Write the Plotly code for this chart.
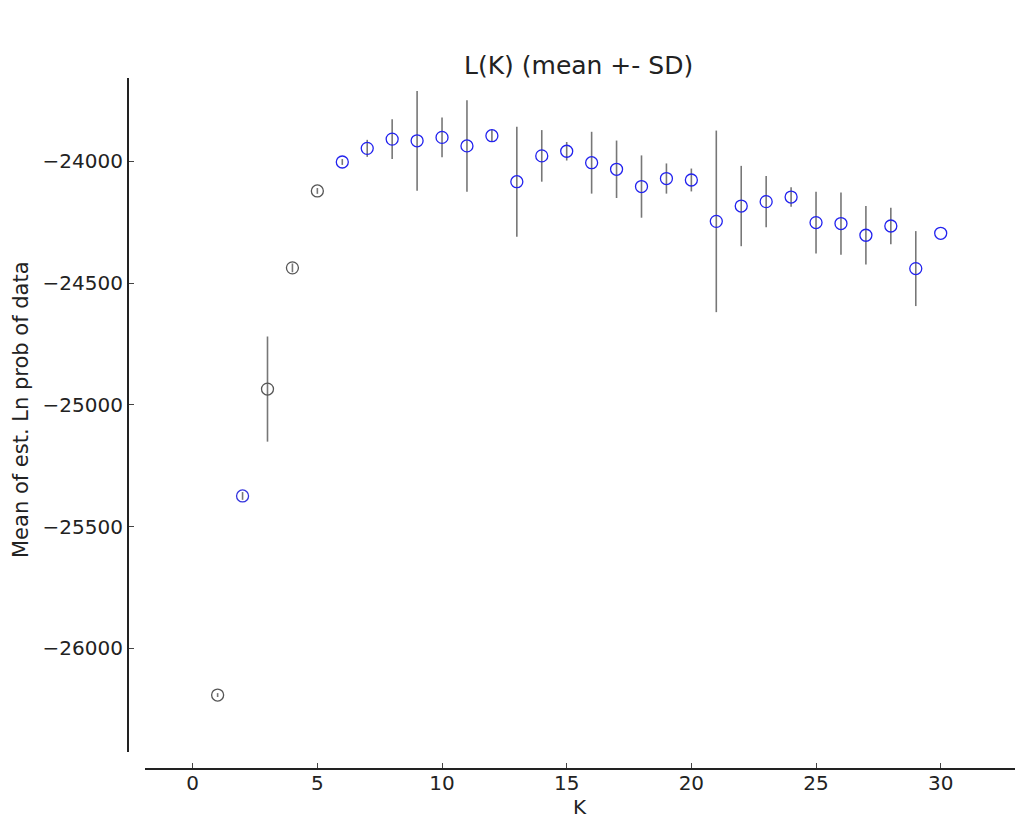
import plotly.graph_objects as go

K = list(range(1, 31))
mean_lnp = [-26192, -25374, -24935, -24437, -24121, -24002, -23946, -23908, -23915, -23901,
            -23936, -23894, -24083, -23977, -23958, -24005, -24032, -24103, -24070, -24076,
            -24246, -24183, -24165, -24146, -24251, -24255, -24303, -24265, -24440, -24295]
sd_lnp = [8, 16, 216, 18, 12, 12, 35, 82, 205, 82,
          188, 25, 226, 106, 38, 127, 118, 128, 62, 47,
          373, 165, 105, 40, 127, 128, 120, 75, 154, 0]
marker_colors = ['#555555', '#3333dd', '#555555', '#555555', '#555555'] + ['#2222ee'] * 25

x_ticks = [0, 5, 10, 15, 20, 25, 30]
y_ticks = [-26000, -25500, -25000, -24500, -24000]

W, H = 1019, 818
FONT = 'DejaVu Sans'

fig = go.Figure()
fig.add_trace(go.Scatter(
    x=K, y=mean_lnp, mode='markers',
    marker=dict(symbol='circle-open', size=12, color=marker_colors, line=dict(width=1.3)),
    error_y=dict(type='data', array=sd_lnp, visible=True, color='#777777', thickness=1.6, width=0),
    showlegend=False,
))

axis_common = dict(showline=True, linecolor='#222222', linewidth=2, showgrid=False, zeroline=False,
                   ticks='inside', ticklen=5, tickwidth=1, tickcolor='#444444',
                   tickfont=dict(family=FONT, size=20, color='#222222'))

fig.update_layout(
    width=W, height=H,
    margin=dict(l=0, r=0, t=0, b=0),
    paper_bgcolor='white', plot_bgcolor='white',
    font=dict(family=FONT, color='#222222'),
    xaxis=dict(domain=[145 / W, 1015 / W], range=[-1.913, 32.98], anchor='free', position=1 - 769 / H,
               tickvals=x_ticks, ticklabelstandoff=-4, **axis_common),
    yaxis=dict(domain=[1 - 752 / H, 1 - 78 / H], range=[-26426, -23657], anchor='free', position=128 / W,
               tickvals=y_ticks, tickformat='d', **axis_common),
    annotations=[
        dict(text='L(K) (mean +- SD)', x=578 / W, y=1 - 66 / H, xref='paper', yref='paper',
             xanchor='center', yanchor='middle', showarrow=False, font=dict(family=FONT, size=25, color='#222222')),
        dict(text='K', x=580 / W, y=1 - 807 / H, xref='paper', yref='paper',
             xanchor='center', yanchor='middle', showarrow=False, font=dict(family=FONT, size=20, color='#222222')),
        dict(text='Mean of est. Ln prob of data', x=21 / W, y=1 - 410 / H, xref='paper', yref='paper',
             xanchor='center', yanchor='middle', textangle=-90, showarrow=False,
             font=dict(family=FONT, size=21, color='#222222')),
    ],
)

fig.write_html('out.html')
